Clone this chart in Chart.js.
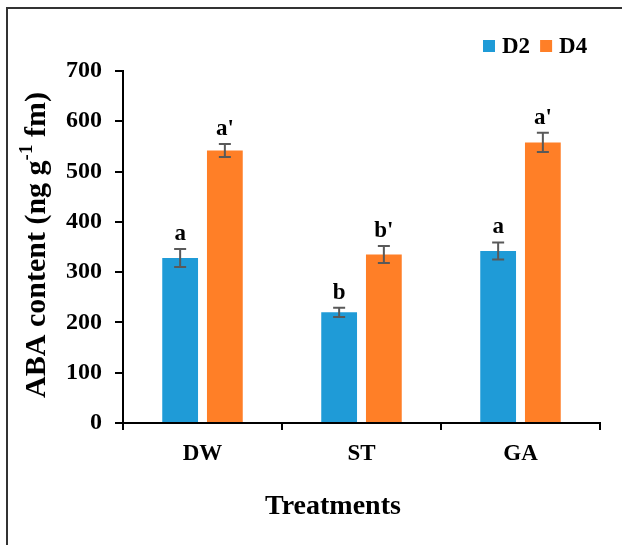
<!DOCTYPE html>
<html>
<head>
<meta charset="utf-8">
<script src="https://cdn.jsdelivr.net/npm/chart.js@4.4.1/dist/chart.umd.min.js"></script>
<style>
  html, body { margin: 0; padding: 0; background: #fff; }
  #wrap { width: 622px; height: 545px; }
</style>
</head>
<body>
<div id="wrap"><canvas id="chart" width="622" height="545"></canvas></div>
<script>
const treatments = ["DW", "ST", "GA"];
const seriesNames = ["D2", "D4"];
const d2Values = [328, 220, 342];
const d4Values = [542, 335, 558];
const d2Errors = [18, 9, 17];
const d4Errors = [13, 17, 19];
const d2Letters = ["a", "b", "a"];
const d4Letters = ["a'", "b'", "a'"];
const yMin = 0;
const yMax = 700;
const yStep = 100;

const serif = "'Liberation Serif', 'Times New Roman', serif";
const colors = ["#1F9BD7", "#FF7F27"];
const errors = [d2Errors, d4Errors];
const letters = [d2Letters, d4Letters];

// white page, frame, legend, axis titles
const decorPlugin = {
  id: "decor",
  beforeDraw(chart) {
    const ctx = chart.ctx;
    ctx.save();
    ctx.fillStyle = "#fff";
    ctx.fillRect(0, 0, chart.width, chart.height);
    ctx.strokeStyle = "#333";
    ctx.lineWidth = 2;
    ctx.strokeRect(7, 8, 700, 700);
    ctx.restore();
  },
  afterDraw(chart) {
    const ctx = chart.ctx;
    ctx.save();
    ctx.fillStyle = "#000";
    ctx.textBaseline = "middle";

    // legend
    ctx.font = "bold 23px " + serif;
    let x = 483;
    chart.data.datasets.forEach((ds) => {
      ctx.fillStyle = ds.backgroundColor;
      ctx.fillRect(x, 40, 12, 12);
      x += 19;
      ctx.fillStyle = "#000";
      ctx.textAlign = "left";
      ctx.fillText(ds.label, x, 47);
      x += ctx.measureText(ds.label).width + 10;
    });

    // x title
    ctx.font = "bold 28px " + serif;
    ctx.textAlign = "center";
    ctx.fillText("Treatments", 333, 507);

    // y title with superscript
    ctx.translate(37, 245);
    ctx.rotate(-Math.PI / 2);
    const big = "bold 30px " + serif;
    const small = "bold 19px " + serif;
    const parts = [
      ["ABA content (ng g", big, 0],
      ["-1", small, -10],
      [" fm)", big, 0],
    ];
    let total = 0;
    parts.forEach((p) => {
      ctx.font = p[1];
      total += ctx.measureText(p[0]).width;
    });
    let px = -total / 2;
    ctx.textAlign = "left";
    parts.forEach((p) => {
      ctx.font = p[1];
      ctx.fillText(p[0], px, p[2]);
      px += ctx.measureText(p[0]).width;
    });
    ctx.restore();
  },
};

// error bars and significance letters
const errorPlugin = {
  id: "errors",
  afterDatasetsDraw(chart) {
    const ctx = chart.ctx;
    const yScale = chart.scales.y;
    ctx.save();
    chart.data.datasets.forEach((ds, i) => {
      const meta = chart.getDatasetMeta(i);
      meta.data.forEach((bar, j) => {
        const v = ds.data[j];
        const e = errors[i][j];
        const top = yScale.getPixelForValue(v + e);
        const bot = yScale.getPixelForValue(v - e);
        ctx.strokeStyle = "#595959";
        ctx.lineWidth = 2;
        ctx.beginPath();
        ctx.moveTo(bar.x, top);
        ctx.lineTo(bar.x, bot);
        ctx.moveTo(bar.x - 6, top);
        ctx.lineTo(bar.x + 6, top);
        ctx.moveTo(bar.x - 6, bot);
        ctx.lineTo(bar.x + 6, bot);
        ctx.stroke();

        ctx.fillStyle = "#000";
        ctx.font = "bold 23px " + serif;
        ctx.textAlign = "center";
        ctx.textBaseline = "alphabetic";
        ctx.fillText(letters[i][j], bar.x, top - 9);
      });
    });
    ctx.restore();
  },
};

new Chart(document.getElementById("chart"), {
  type: "bar",
  data: {
    labels: treatments,
    datasets: [
      {
        label: seriesNames[0],
        data: d2Values,
        backgroundColor: colors[0],
        categoryPercentage: 0.5625,
        barPercentage: 0.8,
      },
      {
        label: seriesNames[1],
        data: d4Values,
        backgroundColor: colors[1],
        categoryPercentage: 0.5625,
        barPercentage: 0.8,
      },
    ],
  },
  options: {
    responsive: false,
    animation: false,
    layout: { padding: { left: 0, top: 71, right: 22, bottom: 0 } },
    plugins: {
      legend: { display: false },
      tooltip: { enabled: false },
    },
    scales: {
      x: {
        afterFit: (scale) => {
          scale.height = 122;
        },
        border: { color: "#000", width: 2 },
        grid: {
          offset: true,
          drawOnChartArea: false,
          drawTicks: true,
          tickLength: 7,
          color: "#000",
          lineWidth: 2,
        },
        ticks: {
          color: "#000",
          padding: 10,
          font: { family: serif, size: 23, weight: "bold" },
        },
      },
      y: {
        min: yMin,
        max: yMax,
        afterFit: (scale) => {
          scale.width = 123;
        },
        border: { color: "#000", width: 2 },
        grid: {
          drawOnChartArea: false,
          drawTicks: true,
          tickLength: 8,
          color: "#000",
          lineWidth: 2,
        },
        ticks: {
          stepSize: yStep,
          color: "#000",
          padding: 13,
          font: { family: serif, size: 24, weight: "bold" },
        },
      },
    },
  },
  plugins: [decorPlugin, errorPlugin],
});
</script>
</body>
</html>
